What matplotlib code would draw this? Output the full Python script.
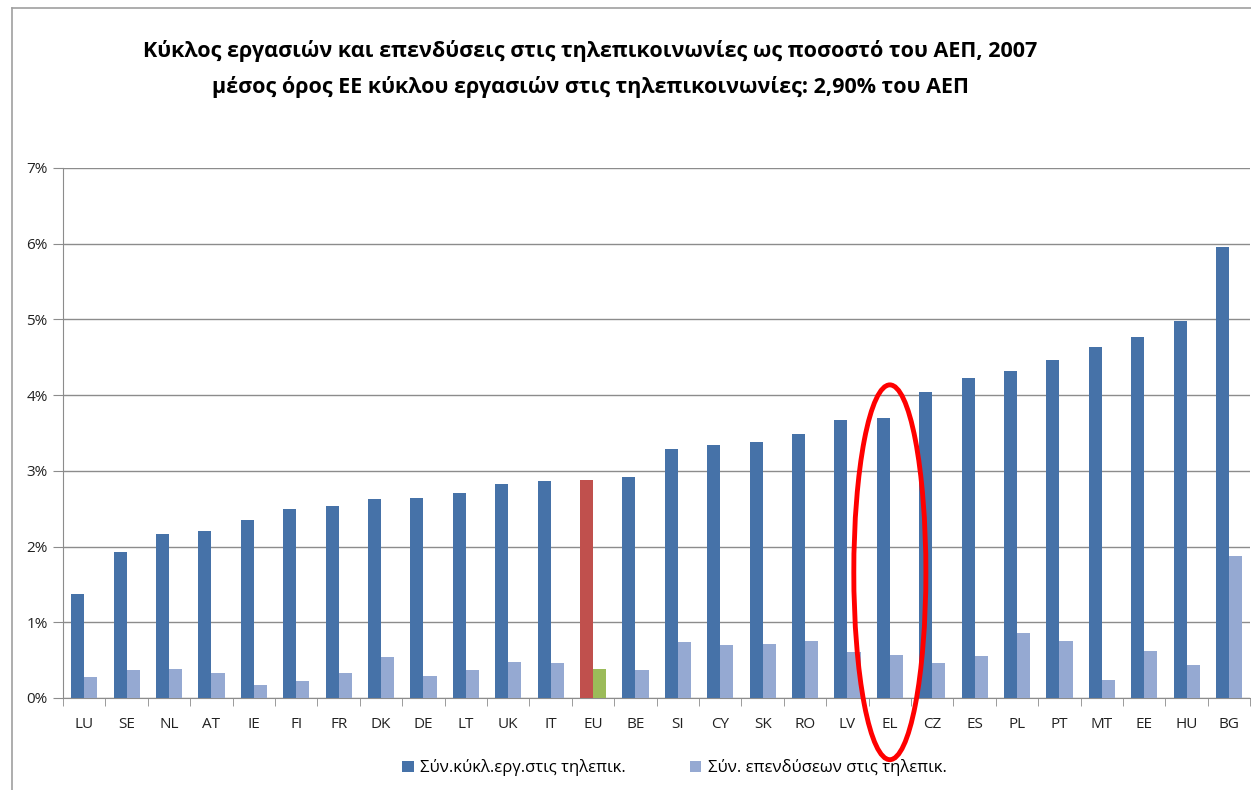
import numpy as np
import matplotlib
matplotlib.use("Agg")
import matplotlib.pyplot as plt
from matplotlib.patches import Ellipse
from matplotlib.lines import Line2D
from matplotlib.ticker import PercentFormatter

plt.rcParams['font.family'] = ['Open Sans', 'DejaVu Sans']

countries = ["LU", "SE", "NL", "AT", "IE", "FI", "FR", "DK", "DE", "LT", "UK", "IT", "EU", "BE",
             "SI", "CY", "SK", "RO", "LV", "EL", "CZ", "ES", "PL", "PT", "MT", "EE", "HU", "BG"]
turnover = [1.37, 1.93, 2.17, 2.21, 2.35, 2.50, 2.54, 2.63, 2.64, 2.71, 2.83, 2.87, 2.88, 2.92,
            3.29, 3.34, 3.38, 3.49, 3.67, 3.70, 4.04, 4.23, 4.32, 4.47, 4.64, 4.77, 4.98, 5.96]
investment = [0.28, 0.37, 0.38, 0.33, 0.17, 0.22, 0.33, 0.54, 0.29, 0.37, 0.48, 0.46, 0.38, 0.37,
              0.74, 0.70, 0.71, 0.75, 0.61, 0.57, 0.46, 0.55, 0.86, 0.75, 0.24, 0.62, 0.44, 1.88]
label_turnover = "Σύν.κύκλ.εργ.στις τηλεπικ."
label_invest = "Σύν. επενδύσεων στις τηλεπικ."
title = ("Κύκλος εργασιών και επενδύσεις στις τηλεπικοινωνίες ως ποσοστό του ΑΕΠ, 2007\n"
         "μέσος όρος ΕΕ κύκλου εργασιών στις τηλεπικοινωνίες: 2,90% του ΑΕΠ")
highlight = "EL"

dark = "#4672A8"
light = "#95A9D2"
grid_c = "#8C8C8C"

fig = plt.figure(figsize=(12.51, 7.90), dpi=100)
ax = fig.add_axes([0.0504, 0.1165, 0.949, 0.6709])

x = np.arange(len(countries))
w = 0.31
c1 = [("#C0504D" if c == "EU" else dark) for c in countries]
c2 = [("#9BBB59" if c == "EU" else light) for c in countries]
ax.bar(x - w / 2, turnover, w, color=c1, label=label_turnover, zorder=3)
ax.bar(x + w / 2, investment, w, color=c2, label=label_invest, zorder=3)

ax.set_xlim(-0.5, len(countries) - 0.5)
ax.set_ylim(0, 7)
ax.set_yticks(np.arange(0, 8, 1))
ax.yaxis.set_major_formatter(PercentFormatter(decimals=0))
ax.set_xticks(x)
ax.set_xticklabels(countries)
ax.set_xticks(np.arange(-0.5, len(countries), 1), minor=True)
ax.tick_params(axis='x', which='major', length=0, pad=14, labelsize=11, colors="#222222")
ax.tick_params(axis='x', which='minor', length=6, color=grid_c)
ax.tick_params(axis='y', length=7, color=grid_c, labelsize=11, labelcolor="#222222", pad=4)
ax.grid(axis='y', color=grid_c, linewidth=1, zorder=0)
for s in ["top", "right"]:
    ax.spines[s].set_visible(False)
for s in ["left", "bottom"]:
    ax.spines[s].set_color(grid_c)

i = countries.index(highlight)
ax.add_patch(Ellipse((i, 1.66), 1.7, 4.95, fill=False, edgecolor="#FF0000",
                     linewidth=3.5, clip_on=False, zorder=5))

fig.text(0.472, 0.913, title, ha='center', va='center', fontsize=15.5, fontweight='bold',
         linespacing=1.8)

leg = ax.legend(loc='center', bbox_to_anchor=(0.515, -0.132), ncol=2, frameon=False,
                handlelength=0.7, handleheight=0.7, handletextpad=0.4, columnspacing=3.8,
                fontsize=12)

fig.add_artist(Line2D([0.0096, 0.0096], [0, 0.99], color="#A0A0A0", linewidth=1.2))
fig.add_artist(Line2D([0.0096, 1.0], [0.99, 0.99], color="#A0A0A0", linewidth=1.2))

fig.savefig("out.png", dpi=100)
